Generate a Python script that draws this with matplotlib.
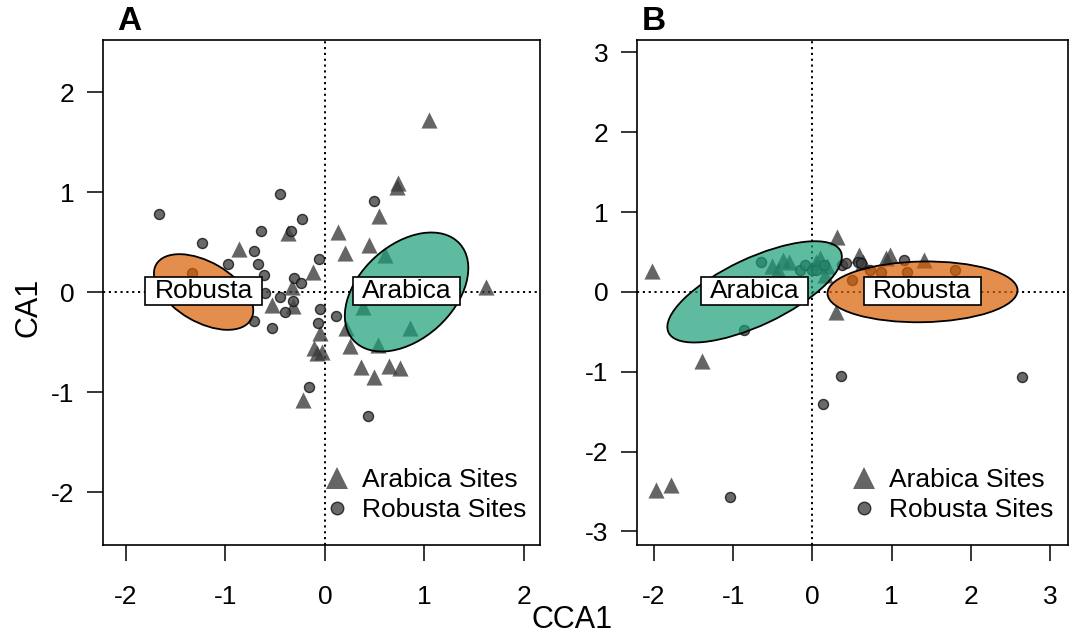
import numpy as np
import matplotlib
matplotlib.use("Agg")
import matplotlib.pyplot as plt
from matplotlib.patches import Ellipse
from matplotlib.lines import Line2D
from matplotlib.path import Path

plt.rcParams['font.family'] = ['Liberation Sans', 'DejaVu Sans']

# ---- panel A data ----
arabica_A_x = [1.05, 0.73, 0.72, 0.54, 0.13, 0.20, 0.44, 0.60, -0.37, -0.86, -0.12, -0.33,
               -0.53, -0.32, 1.62, 0.38, 0.21, 0.85, 0.25, 0.53, -0.05, -0.11, -0.03, -0.08,
               0.36, 0.64, 0.75, 0.49, -0.22]
arabica_A_y = [1.72, 1.09, 1.05, 0.76, 0.60, 0.39, 0.47, 0.37, 0.59, 0.43, 0.20, 0.05,
               -0.13, -0.14, 0.05, -0.15, -0.36, -0.36, -0.54, -0.53, -0.41, -0.56, -0.60, -0.61,
               -0.75, -0.74, -0.76, -0.85, -1.08]
robusta_A_x = [-1.67, -1.24, -1.34, -0.97, -0.71, -0.67, -0.64, -0.45, -0.23, -0.34, -0.61, -0.60,
               -0.45, -0.31, -0.24, -0.32, -0.40, -0.71, -0.53, -0.06, -0.05, -0.07, 0.11, 0.49,
               -0.16, 0.43]
robusta_A_y = [0.78, 0.49, 0.19, 0.28, 0.41, 0.28, 0.61, 0.98, 0.73, 0.61, 0.17, -0.01,
               -0.05, 0.14, 0.09, -0.09, -0.20, -0.29, -0.36, 0.33, -0.17, -0.31, -0.24, 0.91,
               -0.95, -1.24]

# ---- panel B data ----
arabica_B_x = [-2.02, 0.31, -0.51, -0.43, -0.37, -0.30, 0.05, 0.10, 0.18, 0.16, 0.59, 0.64,
               0.93, 0.98, 1.41, 0.30, -1.39, -1.97, -1.78]
arabica_B_y = [0.26, 0.69, 0.32, 0.28, 0.40, 0.38, 0.38, 0.42, 0.32, 0.21, 0.46, 0.38,
               0.42, 0.46, 0.40, -0.25, -0.86, -2.48, -2.42]
robusta_B_x = [-0.65, -0.16, -0.09, -0.01, 0.05, 0.14, 0.37, 0.43, 0.57, 0.61, 0.73, 0.87,
               1.16, 1.20, 1.80, 0.50, -0.87, 0.36, 2.65, 0.13, -1.04]
robusta_B_y = [0.38, 0.27, 0.34, 0.27, 0.28, 0.34, 0.34, 0.36, 0.38, 0.36, 0.28, 0.25,
               0.40, 0.25, 0.28, 0.15, -0.48, -1.05, -1.07, -1.41, -2.57]

# group ellipses: centre x, centre y, semi-axis a, semi-axis b, angle (deg)
ell_names = ["Robusta", "Arabica"]
ell_A = [(-1.22, 0.0, 0.55, 0.30, -30), (0.82, 0.0, 0.72, 0.47, 42)]
ell_B = [(1.39, 0.0, 1.20, 0.38, 1), (-0.73, 0.0, 1.20, 0.42, 25)]
ell_colors = ["#d95f02", "#1b9e77"]

panels = [
    ("A", arabica_A_x, arabica_A_y, robusta_A_x, robusta_A_y, ell_A,
     (-2.231, 2.161), (-2.53, 2.52), [-2, -1, 0, 1, 2], [-2, -1, 0, 1, 2]),
    ("B", arabica_B_x, arabica_B_y, robusta_B_x, robusta_B_y, ell_B,
     (-2.215, 3.227), (-3.17, 3.154), [-2, -1, 0, 1, 2, 3], [-3, -2, -1, 0, 1, 2, 3]),
]


def label_box(x0, y0, width, height, mutation_size):
    # wider horizontal padding than vertical, like the boxed labels in R
    px = 0.34 * mutation_size
    py = 0.06 * mutation_size
    x0, y0 = x0 - px, y0 - py
    x1, y1 = x0 + width + 2 * px, y0 + height + 2 * py
    return Path([(x0, y0), (x1, y0), (x1, y1), (x0, y1), (x0, y0)], closed=True)


fig = plt.figure(figsize=(10.78, 6.38), dpi=100)
W, H = 1078, 638
axes = [fig.add_axes([103 / W, 93 / H, 437 / W, 505 / H]),
        fig.add_axes([637 / W, 93 / H, 431 / W, 505 / H])]

for ax, (tag, ax_x, ax_y, rb_x, rb_y, ells, xl, yl, xt, yt) in zip(axes, panels):
    ax.axvline(0, color="black", lw=1.4, ls=(0, (1.1, 1.9)), zorder=1)
    ax.axhline(0, color="black", lw=1.4, ls=(0, (1.1, 1.9)), zorder=1)

    ax.scatter(ax_x, ax_y, marker="^", s=135, color="#3a3a3a", alpha=0.78,
               linewidths=0, zorder=2)
    ax.scatter(rb_x, rb_y, marker="o", s=52, facecolor="#444444", edgecolor="#111111",
               linewidths=1.0, alpha=0.8, zorder=2)

    for (cx, cy, a, b, ang), col, name in zip(ells, ell_colors, ell_names):
        ax.add_patch(Ellipse((cx, cy), 2 * a, 2 * b, angle=ang, facecolor=col, alpha=0.7,
                             edgecolor="none", zorder=3))
        ax.add_patch(Ellipse((cx, cy), 2 * a, 2 * b, angle=ang, facecolor="none",
                             edgecolor="black", lw=1.3, zorder=3))
        ax.text(cx, cy + 0.01, name, ha="center", va="center", fontsize=19, zorder=5,
                bbox=dict(boxstyle=label_box, fc="white", ec="black", lw=1.2))

    ax.set_xlim(*xl)
    ax.set_ylim(*yl)
    ax.set_xticks(xt)
    ax.set_yticks(yt)
    ax.set_xticklabels([str(v) for v in xt])
    ax.set_yticklabels([str(v) for v in yt])
    ax.tick_params(axis="both", direction="out", length=11.5, width=1.1, labelsize=19)
    ax.tick_params(axis="x", pad=17)
    ax.tick_params(axis="y", pad=9)
    for sp in ax.spines.values():
        sp.set_linewidth(1.2)

    handles = [Line2D([], [], marker="^", ls="none", markersize=15.5, color="#3a3a3a",
                      alpha=0.78, markeredgewidth=0),
               Line2D([], [], marker="o", ls="none", markersize=9, markerfacecolor="#444444",
                      markeredgecolor="#111111", alpha=0.8)]
    anchor_x = 0.505 if tag == "A" else 0.495
    ax.legend(handles, ["Arabica Sites", "Robusta Sites"], loc="upper left",
              bbox_to_anchor=(anchor_x, 0.152), frameon=False, fontsize=19,
              handlelength=1.0, handletextpad=0.45, borderpad=0, borderaxespad=0,
              labelspacing=0.22)

    ax.text(0.032 if tag == "A" else 0.012, 1.005, tag, transform=ax.transAxes,
            fontsize=24, fontweight="bold", ha="left", va="bottom")

fig.text(572 / W, 1 - 620 / H, "CCA1", fontsize=22, ha="center", va="center")
fig.text(28 / W, 1 - 307 / H, "CA1", fontsize=22, ha="center", va="center", rotation=90)

fig.savefig("out.png", dpi=100)
